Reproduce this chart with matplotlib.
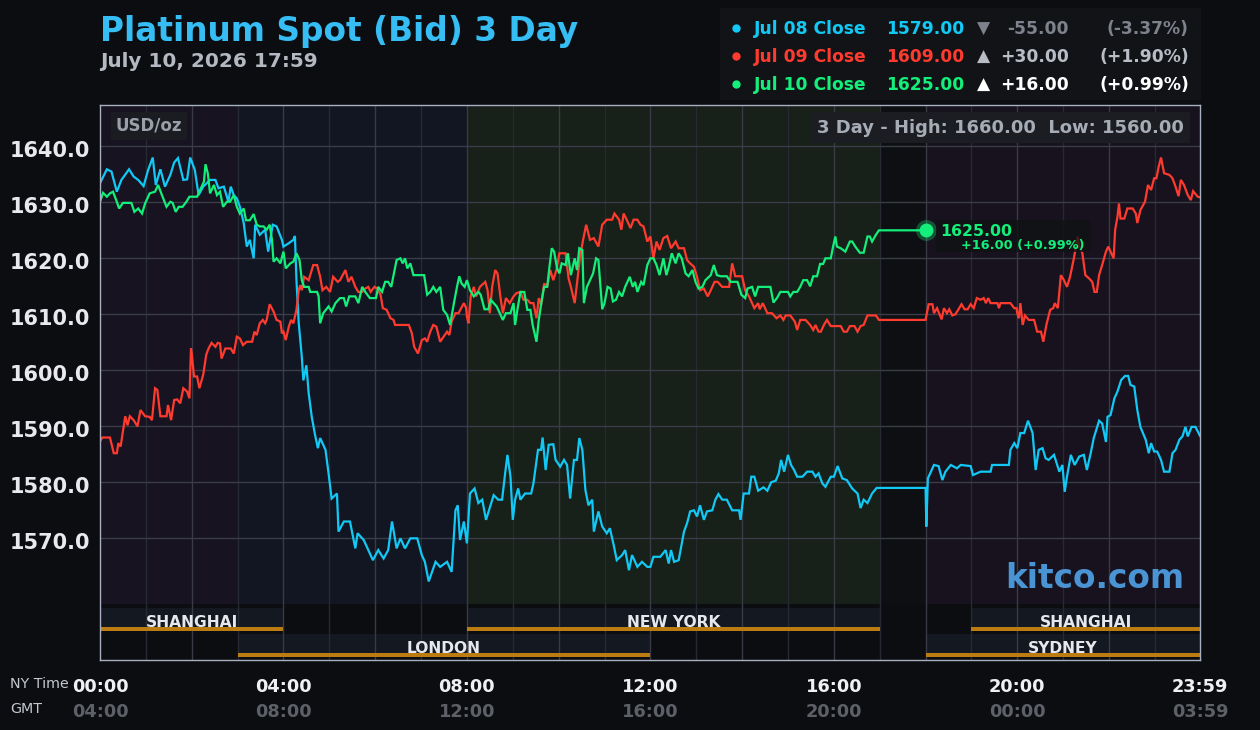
import matplotlib
matplotlib.use("Agg")
import matplotlib.pyplot as plt
from matplotlib.patches import Rectangle
from matplotlib.lines import Line2D
from matplotlib.transforms import ScaledTranslation

plt.rcParams['font.family'] = ['DejaVu Sans']

# ---------------- data (minutes after 00:00 NY time, USD/oz) ----------------
jul08_t = [0, 9, 15, 22, 28, 38, 44, 50, 57, 63, 69, 73, 79, 85, 92, 97, 102, 109, 114, 118, 124, 129, 135,
           144, 151, 155, 162, 168, 171, 175, 179, 183, 188, 192, 196, 201, 203, 209, 216, 220, 226, 231, 238,
           240, 247, 253, 255, 257, 260, 264, 266, 270, 273, 277, 281, 285, 288, 295, 299, 303, 310, 312, 319,
           327, 334, 337, 345, 351, 357, 364, 371, 377, 382, 388, 393, 399, 406, 415, 421, 425, 430, 439, 445,
           454, 460, 465, 468, 471, 476,
           480, 484, 490, 495, 500, 505, 515, 521, 526, 530, 533, 537, 540, 543, 547, 550, 556, 564, 567, 573,
           577, 579, 583, 587, 593, 596, 602, 607, 611, 615, 620, 624, 627, 631, 635, 639, 644, 646, 652, 657,
           663, 667, 672, 676, 683, 687, 692, 696, 703, 709, 716,
           720, 724, 733, 740, 744, 747, 751, 757, 764, 768, 772, 777, 781, 785, 790, 794, 801, 805, 809, 814,
           820, 827, 836, 838, 842, 849, 852, 856, 861, 868, 873, 878, 884, 888, 891, 895, 900, 904, 908, 912,
           919, 925, 932, 936, 940, 945, 949, 956,
           960, 965, 971, 977, 984, 991, 995, 999, 1004, 1010, 1016, 1080, 1081, 1083, 1091, 1097, 1102, 1106,
           1113, 1121, 1126, 1139, 1142, 1152, 1165, 1167, 1189, 1191, 1196,
           1200, 1204, 1209, 1214, 1220, 1224, 1228, 1233, 1237, 1241, 1248, 1255, 1259, 1262, 1265, 1270, 1275,
           1281, 1287, 1291, 1296, 1300, 1307, 1311, 1316, 1318, 1322, 1327, 1331, 1336, 1341, 1345, 1348, 1353,
           1357, 1361, 1368, 1372, 1375, 1379, 1383, 1388, 1392, 1399, 1403, 1407, 1412, 1416, 1420, 1423, 1428,
           1433, 1439]
jul08_v = [1633.4, 1635.9, 1635.5, 1631.9, 1634.0, 1635.9, 1634.6, 1634.0, 1632.9, 1635.8, 1638.0, 1633.1, 1635.9,
           1632.8, 1634.9, 1637.1, 1637.9, 1634.0, 1634.1, 1638.0, 1635.8, 1631.3, 1632.8, 1634.0, 1634.0, 1632.5,
           1632.8, 1630.1, 1632.8, 1631.3, 1630.7, 1629.2, 1626.3, 1622.1, 1623.3, 1620.0, 1626.0, 1624.2, 1625.1,
           1621.2, 1626.0, 1625.7, 1623.3,
           1622.1, 1622.7, 1623.3, 1624.0, 1616.1, 1608.4, 1602.4, 1598.2, 1600.9, 1595.9, 1591.7, 1588.7, 1586.1,
           1587.9, 1585.8, 1581.6, 1577.1, 1578.0, 1571.2, 1573.0, 1573.0, 1568.2, 1570.9, 1569.7, 1567.9, 1566.1,
           1567.9, 1566.4, 1567.9, 1573.0, 1568.2, 1570.0, 1568.2, 1570.0, 1570.0, 1567.0, 1565.8, 1562.3, 1565.8,
           1564.9, 1565.8, 1564.0, 1575.0, 1575.9, 1569.7, 1573.0,
           1569.1, 1578.0, 1578.9, 1576.3, 1576.9, 1573.3, 1577.7, 1576.9, 1576.9, 1581.6, 1584.9, 1581.0, 1573.3,
           1576.9, 1578.9, 1576.9, 1578.0, 1578.0, 1579.8, 1585.8, 1585.8, 1588.0, 1582.2, 1586.7, 1586.8, 1584.0,
           1582.8, 1584.0, 1583.1, 1577.1, 1584.0, 1584.0, 1587.9, 1585.8, 1578.6, 1575.9, 1576.9, 1571.2, 1574.8,
           1572.1, 1570.9, 1571.8, 1568.8, 1566.1, 1567.0, 1567.9, 1564.3, 1567.0, 1564.9, 1565.8, 1564.9,
           1564.9, 1566.7, 1566.7, 1567.9, 1565.5, 1567.9, 1565.8, 1566.1, 1571.2, 1572.7, 1574.8, 1575.0, 1573.9,
           1575.9, 1573.3, 1574.8, 1575.0, 1576.9, 1577.9, 1576.9, 1576.9, 1575.0, 1575.0, 1573.3, 1578.0, 1578.0,
           1581.0, 1581.0, 1578.5, 1579.1, 1578.5, 1580.0, 1580.3, 1581.6, 1584.0, 1581.9, 1584.9, 1583.1, 1582.2,
           1581.0, 1581.0, 1581.9, 1581.9, 1581.0, 1581.6, 1579.8, 1579.2, 1581.0,
           1581.0, 1582.9, 1580.7, 1580.4, 1578.9, 1578.0, 1575.4, 1576.9, 1576.3, 1578.0, 1579.0, 1579.0, 1572.1,
           1580.7, 1583.1, 1582.9, 1580.4, 1581.9, 1583.1, 1582.5, 1583.1, 1582.9, 1581.3, 1581.9, 1581.9, 1583.1,
           1583.1, 1585.8, 1587.0,
           1586.1, 1588.8, 1588.8, 1591.0, 1588.8, 1582.2, 1585.8, 1586.1, 1584.3, 1584.0, 1584.9, 1581.9, 1583.1,
           1578.3, 1581.0, 1584.9, 1583.1, 1584.6, 1584.9, 1582.2, 1585.2, 1587.9, 1591.0, 1590.5, 1587.2, 1591.7,
           1592.0, 1595.0, 1596.2, 1598.3, 1599.0, 1599.0, 1597.4, 1597.1, 1592.9, 1589.9, 1587.6, 1585.2, 1587.0,
           1585.5, 1585.5, 1584.0, 1581.9, 1581.9, 1585.2, 1585.8, 1587.6, 1588.2, 1589.9, 1588.2, 1589.9, 1589.9,
           1588.3]

jul09_t = [0, 3, 13, 18, 22, 24, 27, 31, 33, 36, 39, 44, 49, 53, 59, 65, 68, 72, 75, 79, 87, 89, 93, 97, 101, 105,
           109, 114, 117, 119, 120, 123, 127, 130, 135, 139, 142, 146, 151, 154, 157, 159, 164, 171, 175, 179, 183,
           187, 192, 199, 202, 205, 209, 213, 216, 218, 222, 227, 231, 236, 238,
           240, 243, 247, 250, 253, 257, 260, 262, 264, 267, 273, 279, 284, 288, 291, 296, 301, 305, 311, 314, 321,
           325, 329, 334, 338, 343, 347, 351, 354, 359, 363, 367, 370, 375, 380, 384, 386, 404, 408, 411, 416, 421,
           425, 428, 432, 436, 440, 445, 449, 454, 457, 460, 465, 469, 476, 479,
           480, 482, 485, 489, 492, 497, 504, 507, 510, 513, 517, 520, 524, 527, 531, 536, 541, 545, 550, 554, 559,
           563, 567, 571, 574, 577, 581, 585, 589, 593, 597, 601, 609, 613, 616, 621, 624, 628, 632, 636, 641, 646,
           652, 657, 663, 670, 673, 679, 682, 685, 689, 694, 698, 703, 707, 711, 716, 720,
           724, 728, 732, 737, 742, 747, 753, 757, 764, 768, 772, 777, 781, 785, 790, 795, 799, 804, 808, 814, 823,
           827, 831, 840, 844, 849, 853, 856, 861, 863, 867, 873, 879, 885, 890, 894, 897, 903, 909, 912, 916, 923,
           929, 933, 936, 940, 943, 947, 951, 956,
           960, 969, 973, 977, 981, 987, 991, 995, 999, 1004, 1015, 1019, 1080, 1084, 1089, 1091, 1095, 1099, 1101,
           1104, 1108, 1111, 1115, 1119, 1124, 1127, 1131, 1135, 1139, 1143, 1147, 1152, 1156, 1159, 1162, 1165,
           1174, 1176, 1178, 1191, 1196, 1199,
           1200, 1202, 1204, 1207, 1210, 1215, 1222, 1226, 1231, 1234, 1238, 1243, 1247, 1249, 1253, 1257, 1261,
           1265, 1269, 1274, 1279, 1281, 1285, 1289, 1294, 1298, 1301, 1304, 1307, 1311, 1316, 1319, 1322, 1326,
           1328, 1331, 1333, 1335, 1340, 1344, 1351, 1355, 1357, 1361, 1367, 1371, 1375, 1379, 1382, 1385, 1388,
           1392, 1399, 1403, 1407, 1411, 1414, 1418, 1423, 1427, 1430, 1436, 1439]
jul09_v = [1587.3, 1588.0, 1588.0, 1585.2, 1585.2, 1587.0, 1586.4, 1590.0, 1591.8, 1590.2, 1591.8, 1591.1, 1590.0,
           1592.9, 1591.8, 1591.7, 1591.1, 1596.8, 1596.5, 1591.8, 1591.8, 1593.8, 1591.1, 1594.7, 1594.8, 1594.1,
           1596.8, 1596.2, 1595.0, 1603.9, 1603.0, 1598.9, 1598.9, 1596.8, 1599.2, 1602.8, 1603.9, 1604.9, 1604.2,
           1604.9, 1604.8, 1602.1, 1603.9, 1603.9, 1603.0, 1606.0, 1605.7, 1604.5, 1605.1, 1605.1, 1606.9, 1606.3,
           1608.4, 1609.0, 1608.4, 1609.0, 1611.8, 1610.5, 1609.0, 1608.7, 1606.6,
           1606.9, 1605.4, 1607.8, 1609.0, 1608.4, 1610.8, 1614.3, 1615.2, 1614.3, 1616.7, 1616.1, 1618.8, 1618.8,
           1616.7, 1614.3, 1614.9, 1614.0, 1616.7, 1615.8, 1616.1, 1617.9, 1615.8, 1616.7, 1614.9, 1614.0, 1614.0,
           1614.6, 1614.9, 1614.0, 1614.9, 1614.6, 1613.5, 1611.1, 1610.8, 1609.3, 1609.0, 1608.1, 1608.1, 1606.6,
           1604.2, 1603.0, 1605.4, 1605.7, 1605.1, 1606.9, 1608.1, 1607.8, 1605.1, 1605.9, 1606.9, 1606.3, 1608.7,
           1610.2, 1610.2, 1612.0, 1611.1,
           1609.6, 1608.4, 1613.2, 1614.9, 1613.2, 1614.9, 1615.8, 1614.3, 1610.2, 1614.9, 1617.9, 1617.3, 1612.9,
           1610.2, 1612.9, 1612.0, 1613.2, 1613.8, 1614.0, 1612.6, 1612.6, 1612.0, 1612.0, 1609.3, 1612.9, 1611.7,
           1615.5, 1614.9, 1617.9, 1616.1, 1617.9, 1620.9, 1620.9, 1616.4, 1614.9, 1612.0, 1615.5, 1620.3, 1623.3,
           1626.0, 1623.3, 1623.6, 1622.1, 1626.0, 1626.9, 1626.9, 1628.0, 1626.9, 1625.1, 1628.0, 1626.9, 1625.4,
           1626.9, 1626.9, 1626.0, 1625.7, 1623.0, 1623.9,
           1620.0, 1623.0, 1621.5, 1623.6, 1624.0, 1621.8, 1623.0, 1621.8, 1621.8, 1619.7, 1619.1, 1618.5, 1616.7,
           1614.3, 1614.6, 1613.2, 1614.3, 1615.8, 1615.8, 1614.9, 1614.9, 1619.1, 1616.8, 1616.8, 1614.3, 1613.2,
           1612.0, 1611.1, 1612.0, 1610.9, 1612.0, 1610.2, 1610.2, 1609.3, 1609.8, 1609.0, 1609.8, 1609.8, 1608.7,
           1607.2, 1609.0, 1609.0, 1608.1, 1607.2, 1608.1, 1606.9, 1606.9, 1608.1, 1609.0, 1607.9,
           1607.9, 1607.9, 1606.9, 1606.9, 1607.9, 1607.9, 1606.9, 1607.9, 1608.1, 1609.8, 1609.8, 1609.0, 1609.0,
           1611.8, 1611.8, 1610.2, 1611.1, 1609.8, 1609.1, 1611.1, 1610.2, 1610.9, 1609.8, 1610.0, 1611.1, 1611.8,
           1610.9, 1610.9, 1611.8, 1611.1, 1612.9, 1612.6, 1612.9, 1612.0, 1612.9, 1612.0, 1612.0, 1611.1, 1612.0,
           1612.0, 1611.1, 1611.1,
           1610.2, 1609.3, 1612.0, 1608.1, 1609.8, 1609.0, 1609.0, 1606.9, 1606.9, 1605.1, 1608.1, 1610.8, 1611.1,
           1612.0, 1611.1, 1617.0, 1616.1, 1614.9, 1616.7, 1620.0, 1623.9, 1622.1, 1621.0, 1617.0, 1616.4, 1615.8,
           1614.0, 1614.0, 1617.0, 1618.8, 1621.2, 1622.1, 1621.2, 1620.0, 1625.1, 1627.4, 1629.8, 1627.1, 1627.1,
           1628.9, 1628.9, 1628.0, 1626.3, 1628.6, 1630.1, 1633.1, 1632.2, 1634.3, 1634.3, 1636.4, 1638.0, 1635.2,
           1634.9, 1634.3, 1632.8, 1631.1, 1634.0, 1633.1, 1631.3, 1630.4, 1632.0, 1631.0, 1630.9]

jul10_t = [0, 4, 9, 13, 17, 22, 25, 30, 41, 45, 50, 55, 59, 65, 72, 76, 81, 87, 92, 95, 99, 103, 108, 113, 117,
           127, 130, 133, 136, 138, 141, 144, 149, 153, 157, 161, 166, 170, 175, 179, 183, 188, 191, 196, 201, 205,
           209, 214, 218, 222, 225, 227, 231, 236,
           240, 243, 249, 253, 257, 261, 264, 267, 273, 275, 284, 286, 288, 292, 299, 303, 308, 314, 319, 322, 326,
           334, 338, 343, 347, 353, 361, 364, 369, 373, 377, 381, 384, 388, 393, 396, 399, 402, 406, 410, 424, 428,
           432, 436, 440, 445, 449, 454, 458, 463, 467, 470, 473, 477,
           480, 484, 489, 495, 498, 503, 508, 511, 515, 519, 524, 527, 531, 537, 541, 543, 546, 550, 555, 559, 563,
           566, 571, 574, 578, 581, 585, 588, 591, 594, 598, 601, 604, 609, 612, 616, 621, 624, 627, 631, 633, 637,
           641, 645, 649, 652, 657, 660, 664, 668, 671, 675, 679, 683, 687, 693, 697, 700, 703, 708, 711, 716,
           720, 724, 728, 732, 737, 741, 744, 748, 753, 757, 761, 766, 770, 775, 779, 783, 788, 792, 799, 803, 807,
           812, 820, 825, 834, 839, 844, 847, 853, 857, 861, 877, 881, 886, 890, 900, 903, 907, 912, 916, 920, 925,
           929, 933, 938, 942, 946, 949, 956, 959,
           962, 964, 969, 975, 981, 984, 988, 994, 999, 1004, 1007, 1010, 1015, 1019, 1080]
jul10_v = [1630.1, 1631.7, 1631.0, 1631.6, 1631.9, 1630.1, 1628.9, 1629.9, 1629.9, 1628.3, 1628.9, 1628.0, 1629.8,
           1631.6, 1631.9, 1633.1, 1631.3, 1629.2, 1630.1, 1629.9, 1628.3, 1629.2, 1629.2, 1630.1, 1631.0, 1631.0,
           1631.9, 1632.8, 1633.7, 1636.8, 1635.2, 1631.6, 1633.1, 1631.3, 1631.9, 1629.2, 1630.1, 1630.1, 1631.3,
           1629.2, 1628.0, 1628.9, 1626.8, 1626.8, 1627.9, 1626.0, 1625.7, 1625.7, 1625.1, 1626.0, 1623.3, 1619.4,
           1620.0, 1619.1,
           1621.2, 1618.2, 1619.1, 1619.4, 1620.9, 1619.7, 1616.1, 1614.9, 1614.9, 1614.0, 1614.0, 1613.2, 1608.4,
           1610.2, 1611.4, 1610.5, 1612.0, 1612.9, 1612.9, 1611.4, 1613.2, 1613.2, 1612.0, 1614.9, 1614.0, 1612.9,
           1612.9, 1614.9, 1614.0, 1615.8, 1615.8, 1614.9, 1617.0, 1619.7, 1620.0, 1619.1, 1620.0, 1618.2, 1619.1,
           1617.0, 1617.0, 1613.5, 1614.0, 1614.9, 1614.0, 1614.9, 1610.8, 1609.9, 1608.1, 1612.0, 1614.9, 1616.8,
           1615.5, 1614.9,
           1616.1, 1614.3, 1613.2, 1614.0, 1613.5, 1610.9, 1610.9, 1612.6, 1612.0, 1611.4, 1609.9, 1609.0, 1610.2,
           1610.2, 1612.0, 1608.1, 1610.8, 1614.0, 1614.0, 1610.8, 1610.8, 1608.1, 1605.1, 1609.0, 1612.6, 1614.9,
           1614.9, 1618.5, 1621.8, 1621.2, 1618.2, 1617.3, 1619.1, 1618.8, 1620.9, 1617.0, 1620.0, 1617.9, 1621.8,
           1621.5, 1612.0, 1614.9, 1616.1, 1617.3, 1620.0, 1619.7, 1610.9, 1612.0, 1614.9, 1614.6, 1612.3, 1612.6,
           1614.0, 1613.2, 1614.9, 1616.7, 1614.9, 1615.8, 1614.0, 1615.8, 1615.2, 1618.8,
           1620.0, 1620.0, 1618.8, 1617.0, 1620.0, 1617.0, 1618.5, 1620.9, 1619.1, 1620.9, 1620.0, 1617.3, 1616.8,
           1617.9, 1615.8, 1614.6, 1614.9, 1616.1, 1617.0, 1618.8, 1617.0, 1616.8, 1616.8, 1615.8, 1615.8, 1613.5,
           1612.9, 1614.6, 1614.9, 1613.2, 1614.9, 1614.9, 1612.1, 1613.0, 1614.0, 1614.0, 1613.2, 1614.0, 1614.0,
           1614.9, 1616.1, 1616.1, 1615.0, 1616.8, 1616.8, 1619.0, 1619.0, 1620.0, 1620.0, 1622.1,
           1623.9, 1622.1, 1621.8, 1621.2, 1623.0, 1623.0, 1622.1, 1621.0, 1621.0, 1623.9, 1623.9, 1623.0, 1624.2,
           1625.0, 1625.0]

series_labels = ["Jul 08 Close", "Jul 09 Close", "Jul 10 Close"]
close_values = [1579.00, 1609.00, 1625.00]
close_changes = [-55.00, 30.00, 16.00]
close_pcts = [-3.37, 1.90, 0.99]
high_3day = 1660.00
low_3day = 1560.00

y_ticks = [1570, 1580, 1590, 1600, 1610, 1620, 1630, 1640]
x_ticks = [0, 240, 480, 720, 960, 1200, 1439]
ny_labels = ["00:00", "04:00", "08:00", "12:00", "16:00", "20:00", "23:59"]
gmt_labels = ["04:00", "08:00", "12:00", "16:00", "20:00", "00:00", "03:59"]

session_names = ["SHANGHAI", "NEW YORK", "SHANGHAI", "LONDON", "SYDNEY"]
session_start = [0, 480, 1140, 180, 1080]
session_end = [240, 1020, 1439, 720, 1439]
session_row = [0, 0, 0, 1, 1]

shade_start = [0, 180, 480, 1020, 1080]
shade_end = [180, 480, 1020, 1080, 1439]

# ---------------- styling ----------------
W, H = 1260, 730
BG = '#0b0d11'
line_colors = ['#12c8f5', '#ff3a2e', '#14ee7a']
shade_colors = ['#171320', '#121622', '#172019', '#0e0f12', '#17121e']


def fx(x):
    return x / W


def fy(y):
    return 1 - y / H


fig = plt.figure(figsize=(W / 100, H / 100), dpi=100, facecolor=BG)
ax = fig.add_axes([fx(100), fy(660), 1100 / W, 555 / H])
ax.set_facecolor(BG)
ax.set_xlim(0, 1439)
ax.set_ylim(1548.27, 1647.38)

xt = ax.get_xaxis_transform()
band_top = (660 - 604) / 555

# background trading-period shading
for s, e, c in zip(shade_start, shade_end, shade_colors):
    ax.add_patch(Rectangle((s, band_top), e - s, 1 - band_top, transform=xt, color=c, zorder=0, lw=0))
ax.add_patch(Rectangle((0, 0), 1439, band_top, transform=xt, color='#0c0d10', zorder=0.5, lw=0))

# session boxes
row_box = [((660 - 631) / 555, (660 - 608) / 555), ((660 - 657) / 555, (660 - 634) / 555)]
row_line = [((660 - 631) / 555, 4 / 555), ((660 - 657) / 555, 4 / 555)]
for name, s, e, r in zip(session_names, session_start, session_end, session_row):
    y0, y1 = row_box[r]
    ax.add_patch(Rectangle((s, y0), e - s, y1 - y0, transform=xt, color='#141820', zorder=1, lw=0))
    ly, lh = row_line[r]
    ax.add_patch(Rectangle((s, ly), e - s, lh, transform=xt, color='#bd7c12', zorder=3, lw=0))
    ax.text((s + e) / 2, ly + lh, name, transform=xt, ha='center', va='baseline',
            fontsize=11.2, fontweight='bold', color='#e6e8ee', zorder=4)

# grid
for h in range(1, 24):
    c = '#383b45' if h % 2 == 0 else '#262a32'
    ax.axvline(h * 60, color=c, lw=1, zorder=2)
for v in y_ticks:
    ax.plot([0, 1439], [v, v], color='#3a3d47', lw=1, zorder=2)

# series
for t, v, c in zip([jul08_t, jul09_t, jul10_t], [jul08_v, jul09_v, jul10_v], line_colors):
    ax.plot(t, v, color=c, lw=1.6, zorder=5, solid_joinstyle='miter')

# last point marker + label
last_t, last_v = jul10_t[-1], jul10_v[-1]
ax.plot([last_t], [last_v], 'o', ms=15, color='#14ee7a', alpha=0.3, zorder=6, mec='none')
ax.plot([last_t], [last_v], 'o', ms=10, color='#14ee7a', zorder=7, mec='none')
px, py = ax.transData.transform((last_t, last_v))
ax_box = Rectangle((fx(px + 10), (py - 22) / H), 154 / W, 32 / H, transform=fig.transFigure,
                   color='#101214', alpha=0.8, zorder=6, lw=0)
fig.add_artist(ax_box)
fig.text(fx(px + 14.3), (py - 6) / H, f"{last_v:.2f}", fontsize=11.3, fontweight='bold',
         color='#14ee7a', va='baseline', ha='left', zorder=8)
fig.text(fx(px + 35), (py - 18.6) / H, f"+{close_changes[2]:.2f} (+{close_pcts[2]:.2f}%)", fontsize=9.3,
         fontweight='bold', color='#14ee7a', va='baseline', ha='left', zorder=8)

# y tick labels
ax.set_yticks(y_ticks)
ax.set_yticklabels([f"{v:.1f}" for v in y_ticks], fontsize=15, fontweight='bold', color='#e8e8ee')
ax.set_xticks([])
ax.tick_params(axis='y', length=0, pad=7)
shift = ScaledTranslation(0, -3 / 100, fig.dpi_scale_trans)
for lab in ax.get_yticklabels():
    lab.set_transform(lab.get_transform() + shift)
for sp in ax.spines.values():
    sp.set_color('#a8b0c2')
    sp.set_linewidth(1)
    sp.set_zorder(10)

# x labels
for t, a, b in zip(x_ticks, ny_labels, gmt_labels):
    ax.text(t, (660 - 691.7) / 555, a, transform=xt, ha='center', va='baseline', fontsize=12.8,
            fontweight='bold', color='#f0f0f4', clip_on=False)
    ax.text(t, (660 - 716.7) / 555, b, transform=xt, ha='center', va='baseline', fontsize=12.8,
            fontweight='bold', color='#5d6066', clip_on=False)
fig.text(fx(10), fy(688.5), "NY Time", fontsize=10.3, color='#c4c8ce', va='baseline')
fig.text(fx(10), fy(713), "GMT", fontsize=10.3, color='#c4c8ce', va='baseline')

# in-plot labels
ax.text((115.7 - 100) / 1100, (660 - 131) / 555, "USD/oz", transform=ax.transAxes,
        fontsize=12, fontweight='bold', color='#9aa0aa', va='baseline', ha='left', zorder=9,
        bbox=dict(boxstyle='square,pad=0.3', fc='#1b1c21', ec='none'))
ax.text((1184 - 100) / 1100, (660 - 132.7) / 555,
        f"3 Day - High: {high_3day:.2f}  Low: {low_3day:.2f}", transform=ax.transAxes,
        fontsize=13, fontweight='bold', color='#a6acb6', va='baseline', ha='right', zorder=9,
        bbox=dict(boxstyle='square,pad=0.35', fc='#1b1d22', ec='none'))
ax.text((1184 - 100) / 1100, (660 - 588.3) / 555, "kitco.com", transform=ax.transAxes,
        fontsize=23.6, fontweight='bold', color='#4a94d4', va='baseline', ha='right', zorder=9)

# title
fig.text(fx(100), fy(41), "Platinum Spot (Bid) 3 Day", fontsize=23.6, fontweight='bold',
         color='#35bdf4', va='baseline', ha='left')
fig.text(fx(100), fy(66.7), "July 10, 2026 17:59", fontsize=14.4, fontweight='bold',
         color='#b4b8c0', va='baseline', ha='left')

# legend box
fig.add_artist(Rectangle((fx(720), fy(100)), 481 / W, 92 / H, transform=fig.transFigure,
                         color='#111317', lw=0, zorder=1))
row_y = [34.3, 62.3, 90.0]
sub_colors = ['#7d828c', '#b8bcc4', '#ffffff']
for i in range(3):
    yb = row_y[i]
    fig.add_artist(Line2D([fx(735.5)], [fy(yb - 6)], marker='o', ms=6, color=line_colors[i],
                          mec='none', transform=fig.transFigure, zorder=2))
    fig.text(fx(754.4), fy(yb), series_labels[i], fontsize=12.3, fontweight='bold',
             color=line_colors[i], va='baseline', ha='left', zorder=2)
    fig.text(fx(964.5), fy(yb), f"{close_values[i]:.2f}", fontsize=12.3, fontweight='bold',
             color=line_colors[i], va='baseline', ha='right', zorder=2)
    tri = '▼' if close_changes[i] < 0 else '▲'
    fig.text(fx(983.4), fy(yb), tri, fontsize=12.3, color=sub_colors[i], va='baseline',
             ha='center', zorder=2)
    fig.text(fx(1068.8), fy(yb), f"{close_changes[i]:+.2f}", fontsize=12.3, fontweight='bold',
             color=sub_colors[i], va='baseline', ha='right', zorder=2)
    fig.text(fx(1189), fy(yb), f"({close_pcts[i]:+.2f}%)", fontsize=12.3, fontweight='bold',
             color=sub_colors[i], va='baseline', ha='right', zorder=2)

fig.savefig("out.png", dpi=100, facecolor=BG)
